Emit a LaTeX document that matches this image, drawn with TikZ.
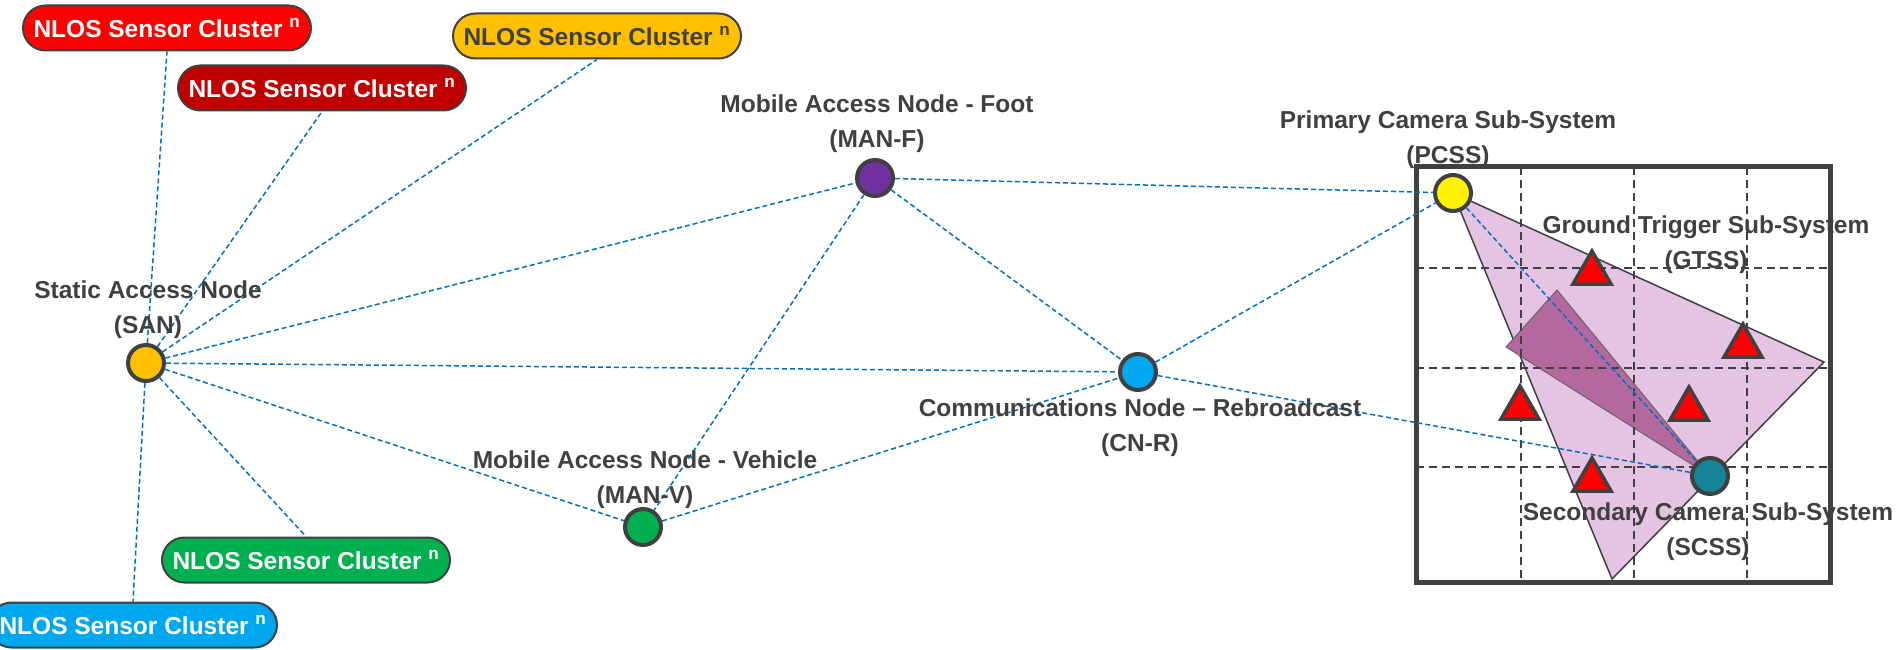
\documentclass[tikz,border=0pt]{standalone}
\usepackage{fontspec}
\setmainfont{Liberation Sans}
\usepackage{xcolor}
\usepackage{tikz}
\usetikzlibrary{shapes.misc}

\definecolor{txtgray}{HTML}{404040}
\definecolor{linkblue}{HTML}{0070C0}
\definecolor{nlosred}{HTML}{FF0000}
\definecolor{nlosdark}{HTML}{C00000}
\definecolor{nlosyellow}{HTML}{FFC000}
\definecolor{nlosgreen}{HTML}{00B050}
\definecolor{nlosblue}{HTML}{00A6EE}
\definecolor{manpurple}{HTML}{7030A0}
\definecolor{scssteal}{HTML}{15849A}
\definecolor{fovpink}{HTML}{E5C3E2}
\definecolor{fovdark}{HTML}{B3699D}

\tikzset{
  pill/.style={rounded rectangle, draw=txtgray, line width=2pt, minimum width=288pt,
    minimum height=45pt, inner sep=0pt, text=white, font=\fontsize{24.5}{30}\selectfont\bfseries},
  netnode/.style={circle, draw=txtgray, line width=4pt, minimum size=36pt, inner sep=0pt},
  nodetag/.style={align=center, text=txtgray, font=\fontsize{24.5}{35}\selectfont\bfseries},
  radiolink/.style={draw=linkblue, line width=1.5pt, dash pattern=on 5pt off 3pt},
  gridline/.style={draw=txtgray, line width=1.6pt, dash pattern=on 8pt off 5pt},
  sensortri/.style={fill=red, draw=txtgray, line width=3.5pt},
}

\begin{document}
\begin{tikzpicture}[x=1pt,y=-1pt]
      \useasboundingbox (0,0) rectangle (1899,650);

      % camera area
      \fill[white] (1416,167) rectangle (1830,582);
      \filldraw[fill=fovpink, draw=txtgray, line width=1.5pt] (1453,193) -- (1824,362) -- (1612,579) -- cycle;
      \filldraw[fill=fovdark, draw=txtgray!80, line width=1pt] (1710,476) -- (1557,290) -- (1506,347) -- cycle;
      \foreach \x in {1521,1634,1747}
        \draw[gridline] (\x,167) -- (\x,582);
      \foreach \y in {268,368,467}
        \draw[gridline] (1416,\y) -- (1830,\y);
      \draw[txtgray, line width=5pt] (1416,167) rectangle (1830,582);

      \foreach \cx/\cy in {1592/268, 1743/341, 1520/403, 1689/404, 1592/475}
        \draw[sensortri] (\cx,\cy-17) -- (\cx+19,\cy+16) -- (\cx-19,\cy+16) -- cycle;

      \node[netnode, fill=nlosyellow] (san) at (146,363) {};
      \node[netnode, fill=manpurple] (manf) at (875,178) {};
      \node[netnode, fill=nlosgreen] (manv) at (643,527) {};
      \node[netnode, fill=nlosblue] (cnr) at (1138,372) {};
      \node[netnode, fill=yellow] (pcss) at (1453,193) {};
      \node[netnode, fill=scssteal] (scss) at (1710,476) {};

      \node[pill, fill=nlosred] (nlos1) at (167,28) {NLOS Sensor Cluster \textsuperscript{n}};
      \node[pill, fill=nlosdark] (nlos2) at (322,88) {NLOS Sensor Cluster \textsuperscript{n}};
      \node[pill, fill=nlosyellow, text=txtgray] (nlos3) at (597,36) {NLOS Sensor Cluster \textsuperscript{n}};
      \node[pill, fill=nlosgreen] (nlos4) at (306,560) {NLOS Sensor Cluster \textsuperscript{n}};
      \node[pill, fill=nlosblue] (nlos5) at (133,625) {NLOS Sensor Cluster \textsuperscript{n}};

      \foreach \i in {1,2,3}
        \draw[radiolink] (san) -- (nlos\i.south);
      \foreach \i in {4,5}
        \draw[radiolink] (san) -- (nlos\i.north);

      \draw[radiolink] (san) -- (manf);
      \draw[radiolink] (san) -- (cnr);
      \draw[radiolink] (san) -- (manv);
      \draw[radiolink] (manf) -- (manv);
      \draw[radiolink] (manf) -- (cnr);
      \draw[radiolink] (manf) -- (pcss);
      \draw[radiolink] (manv) -- (cnr);
      \draw[radiolink] (cnr) -- (pcss);
      \draw[radiolink] (cnr) -- (scss);
      \draw[radiolink] (pcss) -- (scss);

      \node[nodetag] (santag) at (148,310) {Static Access Node\\(SAN)};
      \node[nodetag] (manftag) at (877,124) {Mobile Access Node - Foot\\(MAN-F)};
      \node[nodetag] (manvtag) at (645,480) {Mobile Access Node - Vehicle\\(MAN-V)};
      \node[nodetag] (cnrtag) at (1140,428) {Communications Node – Rebroadcast\\(CN-R)};
      \node[nodetag] (pcsstag) at (1448,140) {Primary Camera Sub-System\\(PCSS)};
      \node[nodetag] (gtsstag) at (1706,245) {Ground Trigger Sub-System\\(GTSS)};
      \node[nodetag] (scsstag) at (1708,532) {Secondary Camera Sub-System\\(SCSS)};
\end{tikzpicture}
\end{document}
